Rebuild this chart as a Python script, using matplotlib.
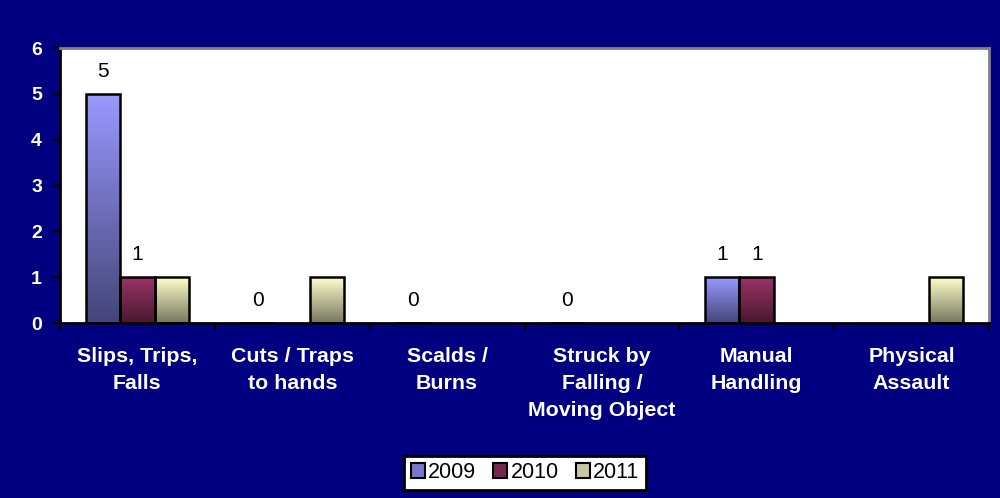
import matplotlib.pyplot as plt
import numpy as np
from matplotlib.colors import LinearSegmentedColormap
from matplotlib.patches import Patch

categories = ['Slips, Trips,\nFalls', 'Cuts / Traps\nto hands', 'Scalds /\nBurns',
              'Struck by\nFalling /\nMoving Object', 'Manual\nHandling', 'Physical\nAssault']
years = ['2009', '2010', '2011']
v2009 = [5, 0, 0, 0, 1, None]
v2010 = [1, None, None, None, 1, None]
v2011 = [1, 1, None, None, None, 1]
series = [v2009, v2010, v2011]
show_labels = [True, True, False]

# top colour, bottom colour for each series gradient
grad = [('#9999ff', '#45457a'), ('#993366', '#4a1830'), ('#ffffcc', '#77775e')]
mid = ['#7777cc', '#772850', '#c8c8a0']

plt.rcParams['font.family'] = ['Liberation Sans', 'DejaVu Sans']

fig = plt.figure(figsize=(10, 4.98), dpi=100)
fig.patch.set_facecolor('#000080')
ax = fig.add_axes([0.06, 0.3514, 0.929, 0.5522])
ax.set_facecolor('white')
ax.set_xlim(-0.5, len(categories) - 0.5)
ax.set_ylim(0, 6)

w = 0.223
for i, vals in enumerate(series):
    xs = [j + (i - 1) * w for j, v in enumerate(vals) if v is not None]
    hs = [v for v in vals if v is not None]
    bars = ax.bar(xs, hs, width=w, facecolor='none', edgecolor='black', linewidth=1.8, zorder=3)
    cmap = LinearSegmentedColormap.from_list('g%d' % i, [grad[i][1], grad[i][0]])
    for b in bars:
        h = b.get_height()
        if h > 0:
            x0 = b.get_x()
            im = ax.imshow(np.linspace(0, 1, 100).reshape(-1, 1), cmap=cmap, origin='lower',
                           extent=(x0, x0 + w, 0, h), aspect='auto', zorder=2)
            im.set_clip_path(b)
        if show_labels[i]:
            ax.annotate(str(h), (b.get_x() + w / 2, h), xytext=(0, 13), textcoords='offset pixels',
                        ha='center', va='bottom', fontsize=15, color='black')

ax.set_xlim(-0.5, len(categories) - 0.5)
ax.set_ylim(0, 6)

ax.set_xticks(np.arange(-0.5, len(categories) + 0.5, 1))
ax.set_xticklabels([])
ax.set_xticks(np.arange(len(categories)), minor=True)
ax.set_xticklabels(categories, minor=True, color='white', fontsize=15.4, fontweight='bold',
                   linespacing=1.55, va='top')
ax.tick_params(axis='x', which='major', direction='out', length=5, width=1.5, color='black')
ax.tick_params(axis='x', which='minor', length=0, pad=17)
ax.set_yticks(range(0, 7))
ax.set_yticklabels([str(t) for t in range(0, 7)], color='white', fontsize=14, fontweight='bold')
ax.tick_params(axis='y', direction='out', length=6, width=1.5, color='black', pad=7)

for s in ['left', 'bottom']:
    ax.spines[s].set_color('black')
    ax.spines[s].set_linewidth(2)
for s in ['top', 'right']:
    ax.spines[s].set_color('#808080')
    ax.spines[s].set_linewidth(2)

handles = [Patch(facecolor=mid[i], edgecolor='black', linewidth=1.5) for i in range(3)]
leg = fig.legend(handles, years, loc='center', bbox_to_anchor=(0.525, 0.051), ncol=3,
                 fontsize=15.5, frameon=True, fancybox=False, handlelength=0.65, handleheight=0.65,
                 handletextpad=0.15, columnspacing=0.8, borderpad=0.3)
leg.get_frame().set_edgecolor('black')
leg.get_frame().set_linewidth(2)
leg.get_frame().set_facecolor('white')
leg.get_frame().set_alpha(1)

fig.savefig('out.png', dpi=100, facecolor=fig.get_facecolor())
